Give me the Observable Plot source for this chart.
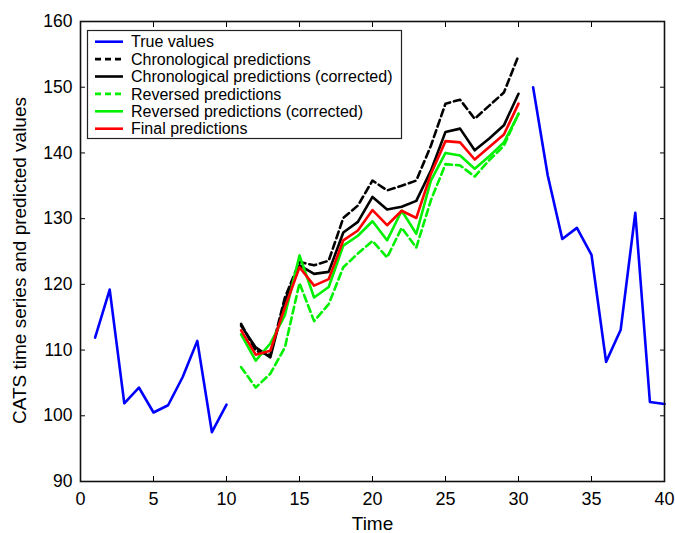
<!DOCTYPE html>
<html><head><meta charset="utf-8">
<script src="https://cdn.jsdelivr.net/npm/d3@7"></script>
<script src="https://cdn.jsdelivr.net/npm/@observablehq/plot@0.6"></script>
<style>
body{margin:0;background:#fff;font-family:"Liberation Sans",Arial,sans-serif;}
#wrap{position:relative;width:675px;height:533px;overflow:hidden;}
#legend{position:absolute;left:0;top:0;pointer-events:none;}
</style></head><body><div id="wrap"></div>
<script>
// ---- data ----
const trueTime = [1,2,3,4,5,6,7,8,9,10, 31,32,33,34,35,36,37,38,39,40];
const trueValues = [111.9,119.2,101.9,104.3,100.5,101.6,105.9,111.4,97.5,101.7,
                    150.0,136.6,126.9,128.6,124.5,108.2,113.1,130.9,102.1,101.8];
const predTime = [11,12,13,14,15,16,17,18,19,20,21,22,23,24,25,26,27,28,29,30];
const chronological = [114.0,109.9,109.2,118.0,123.4,122.9,123.6,130.1,132.0,135.8,134.3,135.0,135.8,141.1,147.5,148.1,145.2,147.2,149.2,154.8];
const chronCorrected = [113.7,110.4,108.9,117.5,122.9,121.6,121.9,127.9,129.5,133.3,131.4,131.8,132.7,137.3,143.2,143.7,140.4,142.2,144.2,149.0];
const reversed = [107.4,104.3,106.4,110.4,120.2,114.4,117.0,122.6,124.7,126.6,124.1,128.6,125.6,132.8,138.3,138.1,136.4,138.9,141.1,146.0];
const revCorrected = [112.4,108.4,111.0,115.3,124.4,118.0,119.6,125.9,127.4,129.6,126.7,131.2,127.7,135.8,140.0,139.6,137.6,139.5,141.6,145.9];
const finalPred = [113.0,109.3,109.9,116.5,122.6,119.8,120.8,126.7,128.2,131.3,129.0,131.2,130.1,136.8,141.8,141.6,139.0,140.9,142.8,147.5];
const xTicks = [0,5,10,15,20,25,30,35,40];
const yTicks = [90,100,110,120,130,140,150,160];
const xTitle = "Time";
const yTitle = "CATS time series and predicted values";
const legendLabels = ["True values","Chronological predictions","Chronological predictions (corrected)","Reversed predictions","Reversed predictions (corrected)","Final predictions"];
const legendColors = ["#0000ff","#000000","#000000","#00f000","#00f000","#ff0000"];
const legendDash = [null,"7,4",null,"7,4",null,null];

// ---- build tables ----
const trueData = trueTime.map((t,i)=>({t, v: trueValues[i], seg: t <= 10 ? "a" : "b"}));
const series = (arr) => predTime.map((t,i)=>({t, v: arr[i]}));

const W = 675, H = 533;
const sw = 2.6;
const plot = Plot.plot({
  width: W, height: H,
  marginLeft: 80, marginRight: 11, marginTop: 21, marginBottom: 52,
  style: {fontFamily: "'Liberation Sans', Arial, sans-serif", fontSize: "17.5px", color: "#000", background: "#fff", overflow: "visible"},
  x: {domain: [0,40]},
  y: {domain: [90,160]},
  marks: [
    Plot.axisX({ticks: xTicks, tickSize: -5, tickPadding: 16, label: null, fontSize: 18}),
    Plot.axisX({anchor: "top", ticks: xTicks, tickSize: -5, tickFormat: () => "", label: null}),
    Plot.axisY({ticks: yTicks, tickSize: -5, tickPadding: 13, label: null, fontSize: 17.5}),
    Plot.axisY({anchor: "right", ticks: yTicks, tickSize: -5, tickFormat: () => "", label: null}),
    Plot.text([xTitle], {frameAnchor: "bottom", dy: 42, lineAnchor: "middle", fontSize: 19, fill: "#000"}),
    Plot.text([yTitle], {frameAnchor: "left", rotate: -90, dx: -61, dy: 9, textAnchor: "middle", lineAnchor: "middle", fontSize: 19, fill: "#000"}),
    Plot.lineY(trueData, {x: "t", y: "v", z: "seg", stroke: legendColors[0], strokeWidth: sw}),
    Plot.lineY(series(chronological), {x: "t", y: "v", stroke: legendColors[1], strokeWidth: sw, strokeDasharray: legendDash[1]}),
    Plot.lineY(series(chronCorrected), {x: "t", y: "v", stroke: legendColors[2], strokeWidth: sw}),
    Plot.lineY(series(reversed), {x: "t", y: "v", stroke: legendColors[3], strokeWidth: sw, strokeDasharray: legendDash[3]}),
    Plot.lineY(series(revCorrected), {x: "t", y: "v", stroke: legendColors[4], strokeWidth: sw}),
    Plot.lineY(series(finalPred), {x: "t", y: "v", stroke: legendColors[5], strokeWidth: sw}),
    Plot.frame({stroke: "#111", strokeWidth: 1.6})
  ]
});
const wrap = document.getElementById("wrap");
wrap.appendChild(plot);

// ---- legend overlay ----
const ns = "http://www.w3.org/2000/svg";
const lg = document.createElementNS(ns, "svg");
lg.setAttribute("id","legend");
lg.setAttribute("width", W); lg.setAttribute("height", H);
const box = document.createElementNS(ns, "rect");
Object.entries({x: 87.5, y: 30.5, width: 314, height: 108, fill: "#fff", stroke: "#222", "stroke-width": 1.2}).forEach(([k,v])=>box.setAttribute(k,v));
lg.appendChild(box);
legendLabels.forEach((lab,i)=>{
  const y = 41.7 + i*17.4;
  const ln = document.createElementNS(ns, "line");
  Object.entries({x1: 95, x2: 123, y1: y, y2: y, stroke: legendColors[i], "stroke-width": sw}).forEach(([k,v])=>ln.setAttribute(k,v));
  if (legendDash[i]) ln.setAttribute("stroke-dasharray", "6,4");
  lg.appendChild(ln);
  const tx = document.createElementNS(ns, "text");
  tx.setAttribute("x", 131); tx.setAttribute("y", y);
  tx.setAttribute("dy", "0.36em");
  tx.setAttribute("font-size", 16);
  tx.setAttribute("font-family", "'Liberation Sans', Arial, sans-serif");
  tx.textContent = lab;
  lg.appendChild(tx);
});
wrap.appendChild(lg);
</script>
</body></html>
